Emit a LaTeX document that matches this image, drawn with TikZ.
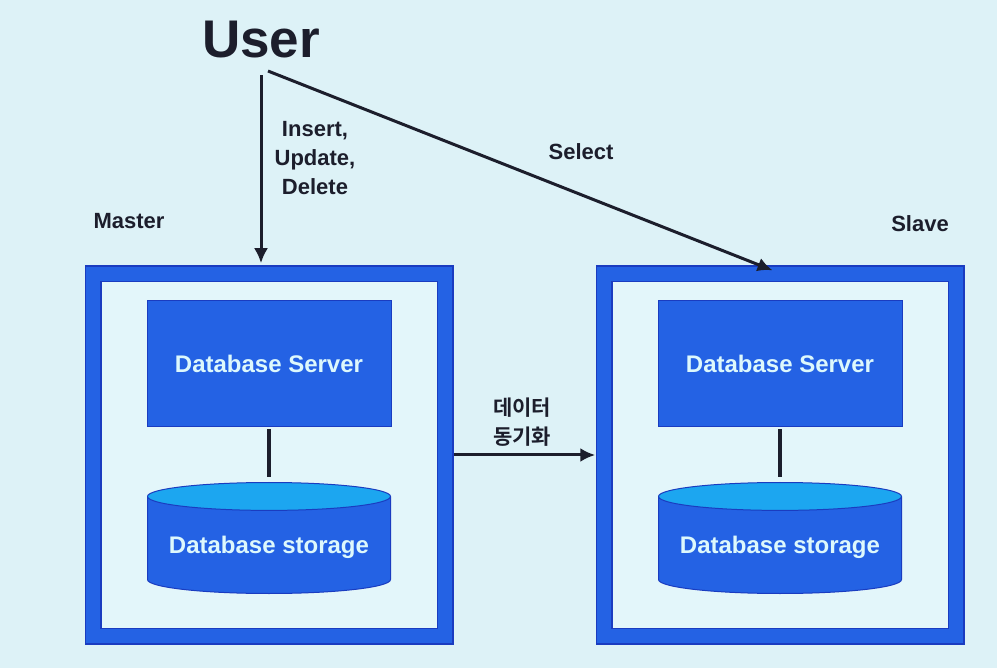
\documentclass[tikz,border=0pt]{standalone}
\usepackage{fontspec}
\setmainfont{Liberation Sans}
\newfontfamily\krfont[BoldFont={Noto Sans CJK KR Bold}]{Noto Sans CJK KR}
\usetikzlibrary{shapes.geometric,arrows.meta,positioning}
\definecolor{DBhell}{HTML}{DDF2F7}
\definecolor{DBinnen}{HTML}{E3F6FA}
\definecolor{DBblau}{HTML}{2462E4}
\definecolor{DBrand}{HTML}{1A3CC0}
\definecolor{DBdeckel}{HTML}{1CA6F0}
\definecolor{DBschrift}{HTML}{1C1E2C}
\definecolor{DBweiss}{HTML}{DDF8FC}
\newcommand{\labelfont}{\bfseries\fontsize{22}{29}\selectfont}
\newcommand{\dbsystem}[2]{%
  \node[frame] (#1) at (#2,455) {};
  \node[server] (#1server) at (#2,364) {Database Server};
  \node[storage, anchor=south] (#1storage) at (#2,594) {Database storage};
  \draw[link] (#1server) -- (#1storage);}

\begin{document}
\begin{tikzpicture}[x=1pt, y=-1pt,
  frame/.style={draw=DBrand, line width=1.5pt, double=DBblau,
    double distance=14pt, fill=DBinnen,
    minimum width=352pt, minimum height=362pt},
  server/.style={draw=DBrand, line width=1pt, fill=DBblau, text=DBweiss,
    font=\bfseries\fontsize{24}{28}\selectfont,
    minimum width=244pt, minimum height=126pt},
  storage/.style={shape=cylinder, shape border rotate=90, aspect=0.135,
    cylinder uses custom fill, cylinder body fill=DBblau,
    cylinder end fill=DBdeckel, draw=DBrand, line width=1pt,
    text=DBweiss, font=\bfseries\fontsize{24}{28}\selectfont,
    minimum width=243pt, minimum height=111pt},
  link/.style={line width=4pt, DBschrift, shorten <=2pt, shorten >=5pt},
  arrow/.style={line width=3pt, DBschrift,
    -{Latex[length=15pt, width=14pt]}},
  tag/.style={text=DBschrift, font=\labelfont, align=center}]

% ====================================================================
%
%         Hintergrund
%
% ====================================================================

  \fill[DBhell] (0,0) rectangle (997,668);
  \useasboundingbox (0,0) rectangle (997,668);

% ====================================================================
%
%         Datenbanken
%
% ====================================================================

  % Master links
  \dbsystem{master}{269}
  \node[tag] (mastertag) at (129,221) {Master};

  % Slave rechts
  \dbsystem{slave}{780}
  \node[tag] (slavetag) at (920,224) {Slave};

% ====================================================================
%
%         User und Pfeile
%
% ====================================================================

  \node[text=DBschrift, font=\bfseries\fontsize{53}{60}\selectfont]
    (user) at (261,40) {User};
  \coordinate (selectfrom) at ([shift={(7,9)}]user.south);

  % Pfeil nach unten
  \draw[arrow, shorten <=13pt, shorten >=10pt]
    (user.south) -- (user.south |- master.north);
  \node[tag] (writetag) at (315,158) {Insert,\\Update,\\Delete};

  % Pfeil schraeg
  \draw[arrow, shorten >=8pt] (selectfrom) -- (slave.north);
  \node[tag] (selecttag) at (581,152) {Select};

  % Pfeil Synchronisation
  \draw[arrow, shorten <=8pt, shorten >=8pt]
    (master.east) -- (master.east -| slave.west);
  \node[tag, font=\krfont\bfseries\fontsize{21}{29}\selectfont]
    (synctag) at (522,422) {데이터\\동기화};

\end{tikzpicture}
\end{document}
